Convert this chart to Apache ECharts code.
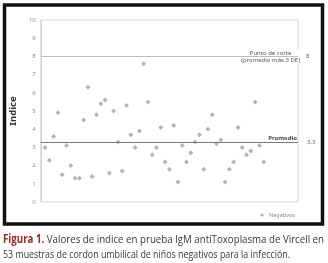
<!DOCTYPE html>
<html>
<head>
<meta charset="utf-8">
<script src="https://cdn.jsdelivr.net/npm/echarts@6/dist/echarts.min.js"></script>
<style>
  html, body { margin: 0; padding: 0; background: #fff; }
  #chart { width: 328px; height: 263px; }
</style>
</head>
<body>
<div id="chart"></div>
<script>
// índice de cada muestra negativa (orden de la muestra = posición en el array)
const negativos = [
  3.0, 2.3, 3.6, 4.9, 1.5, 3.1, 2.0, 1.3, 1.3, 4.5,
  6.3, 1.4, 4.8, 5.4, 5.6, 1.6, 5.0, 3.3, 1.7, 5.3,
  3.7, 3.0, 3.9, 7.6, 5.5, 2.6, 3.0, 4.1, 2.2, 1.8,
  4.2, 1.1, 3.1, 2.2, 2.7, 3.3, 3.7, 1.8, 4.0, 4.8,
  3.2, 3.4, 1.1, 1.8, 2.2, 4.1, 3.0, 2.6, 2.8, 5.5,
  3.1, 2.2
]
const puntoCorte = 8
const promedio = 3.3
const yMin = 0
const yMax = 10
const xMax = 60

const captionFont = '"Open Sans", "Noto Sans", sans-serif'
const caption1a = 'Figura 1.'
const caption1b = ' Valores de indice en prueba IgM antiToxoplasma de Vircell en'
const caption2 = '53 muestras de cordon umbilical de niños negativos para la infección.'

const chart = echarts.init(document.getElementById('chart'))

const option = {
  animation: false,
  grid: {
    left: 36,
    top: 20,
    right: 30,
    bottom: 61,
    show: true,
    borderColor: '#d6d6d6',
    borderWidth: 1
  },
  legend: {
    right: 28,
    top: 207,
    itemWidth: 4,
    itemHeight: 4,
    itemGap: 2,
    icon: 'diamond',
    textStyle: { fontSize: 5.5, color: '#8a8a8a', fontFamily: 'Noto Sans' },
    data: ['Negativos']
  },
  xAxis: {
    type: 'value',
    min: 0,
    max: xMax,
    axisLine: { show: false },
    axisTick: { show: false },
    axisLabel: { show: false },
    splitLine: { show: false }
  },
  yAxis: {
    type: 'value',
    min: yMin,
    max: yMax,
    interval: 1,
    name: 'Indice',
    nameLocation: 'middle',
    nameRotate: 90,
    nameGap: 11,
    nameTextStyle: { fontSize: 9.5, fontWeight: 'bold', color: '#333', fontFamily: 'Noto Sans' },
    axisLine: { show: true, lineStyle: { color: '#d6d6d6' } },
    axisTick: { show: false },
    axisLabel: { fontSize: 6, color: '#8c8c8c', margin: 5, fontFamily: 'Noto Sans' },
    splitLine: { show: false }
  },
  series: [
    {
      name: 'Negativos',
      type: 'scatter',
      symbol: 'diamond',
      symbolSize: 5,
      itemStyle: { color: '#a3a3a3' },
      data: negativos.map((v, i) => [i + 1, v]),
      markLine: {
        silent: true,
        symbol: 'none',
        data: [
          {
            yAxis: puntoCorte,
            lineStyle: { color: '#bdbdbd', width: 1, type: 'solid' },
            label: { position: 'end', distance: 8, formatter: '8', fontSize: 6, color: '#666', fontFamily: 'Noto Sans' }
          },
          {
            yAxis: promedio,
            lineStyle: { color: '#7a7a7a', width: 1.2, type: 'solid' },
            label: { position: 'end', distance: 9, formatter: '3,3', fontSize: 6, color: '#666', fontFamily: 'Noto Sans' }
          },
          {
            yAxis: promedio,
            lineStyle: { color: '#7a7a7a', width: 1.2, type: 'solid' },
            label: { position: 'insideEndTop', distance: 1, formatter: 'Promedio', fontSize: 6, fontWeight: 'bold', color: '#444', fontFamily: 'Noto Sans' }
          }
        ]
      }
    }
  ]
}

chart.setOption(option)

// ancho del pie de figura: se comprime en horizontal para ocupar el ancho como en la imagen
const ctx = document.createElement('canvas').getContext('2d')
ctx.font = 'bold 11.5px ' + captionFont
const wA = ctx.measureText(caption1a).width
ctx.font = '11.5px ' + captionFont
const wB = ctx.measureText(caption1b).width
const w2 = ctx.measureText(caption2).width
const sx1 = 321 / (wA + wB)
const sx2 = 287 / w2

const corte = chart.convertToPixel({ gridIndex: 0 }, [53.6, puntoCorte])
chart.setOption({
  graphic: [
    {
      type: 'rect',
      shape: { x: 4.5, y: 5, width: 318, height: 219 },
      style: { fill: 'none', stroke: '#111', lineWidth: 3.5 }
    },
    {
      type: 'text',
      x: corte[0],
      y: corte[1],
      style: {
        text: 'Punto de corte\n(promedio más 3 DE)',
        align: 'center',
        verticalAlign: 'middle',
        fontSize: 6,
        lineHeight: 7,
        fill: '#555',
        fontFamily: 'Noto Sans',
        backgroundColor: '#fff',
        padding: [0, 1]
      }
    },
    {
      type: 'text',
      x: 3,
      y: 240,
      scaleX: sx1,
      style: {
        text: '{b|' + caption1a + '}' + caption1b,
        verticalAlign: 'middle',
        fontSize: 11.5,
        fill: '#3d3535',
        fontFamily: captionFont,
        rich: {
          b: { fontSize: 11.5, fontWeight: 'bold', fill: '#9b2c24', fontFamily: captionFont }
        }
      }
    },
    {
      type: 'text',
      x: 3,
      y: 255,
      scaleX: sx2,
      style: {
        text: caption2,
        verticalAlign: 'middle',
        fontSize: 11.5,
        fill: '#3d3535',
        fontFamily: captionFont
      }
    }
  ]
})
</script>
</body>
</html>
